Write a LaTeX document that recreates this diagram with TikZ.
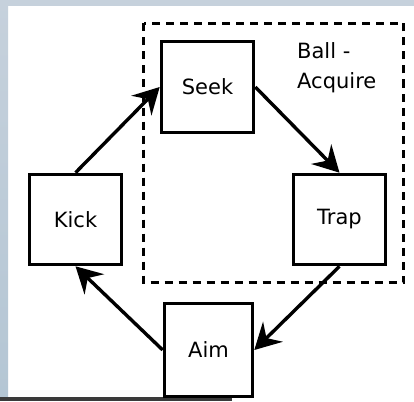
\documentclass[tikz,border=0pt]{standalone}
\usepackage{fontspec}
\setmainfont{DejaVu Sans}
\usetikzlibrary{arrows.meta}
\definecolor{frameblue}{HTML}{B4C6D4}
\definecolor{frametop}{HTML}{C6D1DC}
\definecolor{barcol}{HTML}{3A3A3A}
\begin{document}
\begin{tikzpicture}[x=1pt,y=-1pt,
  state/.style={draw, line width=3.6pt, inner sep=0pt,
    font=\fontsize{21}{25}\selectfont},
  flow/.style={line width=3.4pt, -{Stealth[length=26pt,width=28pt,inset=9pt]}},
  group/.style={line width=3.4pt, dash pattern=on 8pt off 6pt}]
\useasboundingbox (0,0) rectangle (414,401);
% window backdrop
\fill[white] (0,0) rectangle (414,401);
\shade[top color=frametop, bottom color=frameblue] (0,0) rectangle (8,397);
\fill[frametop] (0,0) rectangle (414,6);
\fill[barcol] (0,397) rectangle (232,401);

% ball-acquire group
\draw[group] (143.5,23.5) rectangle (403.5,282.5);
\node[anchor=north west, inner sep=0pt, align=left,
  font=\fontsize{21}{30}\selectfont] (grouplabel) at (297,42) {Ball -\\Acquire};

% states
\node[state, minimum width=92pt, minimum height=91pt] (seek) at (207.5,87) {Seek};
\node[state, minimum width=92pt, minimum height=90pt] (kick) at (75.5,219.5) {Kick};
\node[state, minimum width=92pt, minimum height=90pt] (trap) at (339.5,219.5) {Trap};
\node[state, minimum width=88pt, minimum height=93pt] (aim) at (208.5,350) {Aim};

% transitions
\draw[flow] (kick.north) -- (seek.west);
\draw[flow] (seek.east) -- (trap.north);
\draw[flow] (trap.south) -- (aim.east);
\draw[flow] (aim.west) -- (kick.south);
\end{tikzpicture}
\end{document}
